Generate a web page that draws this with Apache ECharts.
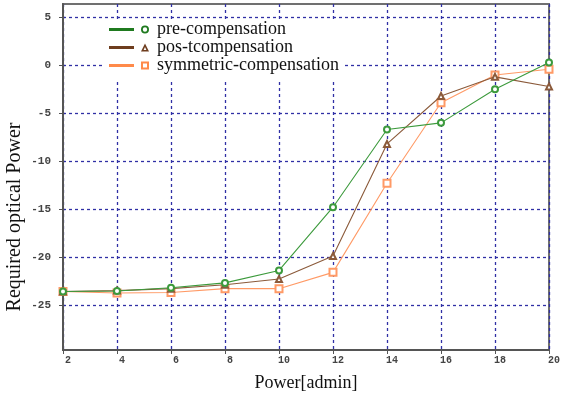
<!DOCTYPE html>
<html>
<head>
<meta charset="utf-8">
<script src="https://cdn.jsdelivr.net/npm/echarts@6/dist/echarts.min.js"></script>
<style>html,body{margin:0;padding:0;background:#fff}#c{width:563px;height:397px}</style>
</head>
<body>
<div id="c"></div>
<script>
const powerAdmin = [2, 4, 6, 8, 10, 12, 14, 16, 18, 20];
const preCompensation = [-23.6, -23.55, -23.2, -22.7, -21.4, -14.8, -6.7, -6.0, -2.5, 0.3];
const postCompensation = [-23.6, -23.5, -23.3, -22.9, -22.3, -19.9, -8.2, -3.2, -1.2, -2.2];
const symmetricCompensation = [-23.6, -23.75, -23.7, -23.3, -23.3, -21.6, -12.3, -3.9, -1.0, -0.4];
const yTickValues = [-25, -20, -15, -10, -5, 0, 5];
const seriesNames = ['pre-compensation', 'pos-tcompensation', 'symmetric-compensation'];

const pair = (ys) => powerAdmin.map((x, i) => [x, ys[i]]);

const iconCircle = 'path://M0,3L25,3L25,6L0,6Z M40,4.5A4,4 0 1,1 32,4.5A4,4 0 1,1 40,4.5Z M38.2,4.5A2.2,2.2 0 1,0 33.8,4.5A2.2,2.2 0 1,0 38.2,4.5Z';
const iconTri = 'path://M0,3L25,3L25,6L0,6Z M36,0.5L40,8.5L32,8.5Z M36,4L34.6,7L37.4,7Z';
const iconSq = 'path://M0,3L25,3L25,6L0,6Z M32,0.5L40,0.5L40,8.5L32,8.5Z M34,2.5L34,6.5L38,6.5L38,2.5Z';

const chart = echarts.init(document.getElementById('c'), null, {renderer: 'canvas'});
chart.setOption({
  animation: false,
  backgroundColor: '#fff',
  grid: {left: 63, right: 14, top: 4, bottom: 47, show: true, borderColor: '#707070', borderWidth: 2,
         containLabel: false, outerBoundsMode: 'none'},
  legend: {
    orient: 'vertical', left: 103, top: 19, padding: [1.5, 4, 5.5, 6], itemGap: 0, itemWidth: 40, itemHeight: 8,
    backgroundColor: '#fff',
    textStyle: {fontFamily: 'Liberation Serif', fontSize: 18, color: '#111', lineHeight: 17.5, padding: [0, 0, 0, 3]},
    data: [
      {name: seriesNames[0], icon: iconCircle, itemStyle: {color: '#1f7a1f'}},
      {name: seriesNames[1], icon: iconTri, itemStyle: {color: '#6e3d1e'}},
      {name: seriesNames[2], icon: iconSq, itemStyle: {color: '#ff8a4a'}}
    ]
  },
  xAxis: {
    type: 'value', min: 2, max: 20, interval: 2,
    name: 'Power[admin]', nameLocation: 'middle', nameGap: 24, nameMoveOverlap: false,
    nameTextStyle: {fontFamily: 'Liberation Serif', fontSize: 18, color: '#111'},
    axisLine: {show: true, onZero: false, lineStyle: {color: '#555', width: 2}},
    axisTick: {show: true, inside: false, length: 4, lineStyle: {color: '#555'}},
    axisLabel: {fontFamily: 'Liberation Mono', fontWeight: 'bold', fontSize: 10, color: '#444', margin: 5, padding: [0, 0, 0, 10]},
    splitLine: {show: true, lineStyle: {color: '#3030a5', type: [3, 3], width: 1.3}}
  },
  yAxis: {
    type: 'value', min: -29.7, max: 6.4,
    name: 'Required optical Power', nameLocation: 'middle', nameGap: 38, nameRotate: 90, nameMoveOverlap: false,
    nameTextStyle: {fontFamily: 'Liberation Serif', fontSize: 20, color: '#111', padding: [0, 80, 0, 0]},
    axisLine: {show: true, onZero: false, lineStyle: {color: '#555', width: 2}},
    axisTick: {show: true, length: 4, lineStyle: {color: '#555'}, customValues: yTickValues},
    axisLabel: {fontFamily: 'Liberation Mono', fontWeight: 'bold', fontSize: 11, color: '#444', margin: 12, customValues: yTickValues},
    splitLine: {show: true, lineStyle: {color: '#3030a5', type: [3, 3], width: 1.3}}
  },
  series: [
    {name: seriesNames[0], type: 'line', data: pair(preCompensation), symbol: 'emptyCircle', symbolSize: 6,
     lineStyle: {width: 1.1, color: '#3c9a3c'}, itemStyle: {color: '#3c9a3c', borderWidth: 1.1}, z: 4},
    {name: seriesNames[1], type: 'line', data: pair(postCompensation), symbol: 'emptyTriangle', symbolSize: 6,
     lineStyle: {width: 1.1, color: '#8b5a3a'}, itemStyle: {color: '#8b5a3a', borderWidth: 1.1}, z: 3},
    {name: seriesNames[2], type: 'line', data: pair(symmetricCompensation), symbol: 'emptyRect', symbolSize: 7,
     lineStyle: {width: 1.1, color: '#ff9a66'}, itemStyle: {color: '#ff9a66', borderWidth: 1.1}, z: 2}
  ]
});
</script>
</body>
</html>
